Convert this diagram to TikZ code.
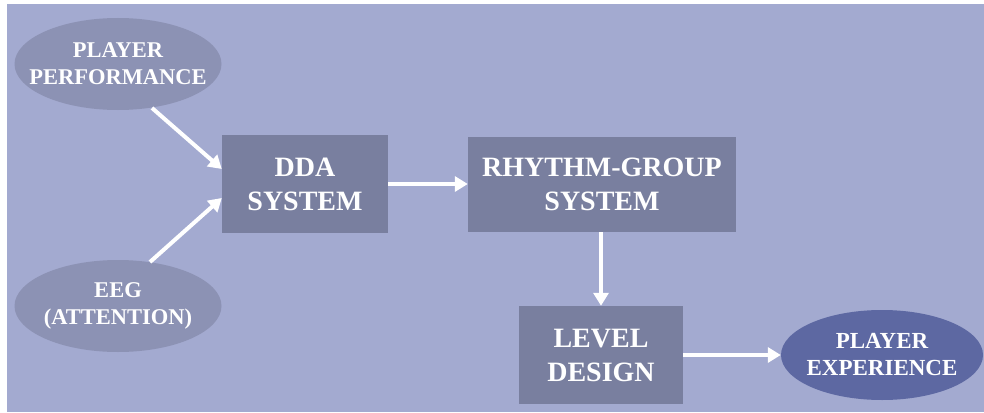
\documentclass[tikz,border=0pt]{standalone}
\usepackage{fontspec}
\setmainfont{Liberation Serif}
\usetikzlibrary{arrows.meta,shapes.geometric}
\definecolor{bgc}{HTML}{A3AAD0}
\definecolor{boxc}{HTML}{797F9F}
\definecolor{ellc}{HTML}{8C92B4}
\definecolor{pxc}{HTML}{5D68A2}
\tikzset{
  blk/.style={fill=boxc, draw=none, text=white, font=\bfseries\fontsize{28}{34}\selectfont, align=center, inner sep=0pt},
  ell/.style={ellipse, fill=ellc, draw=none, inner sep=0pt, minimum width=207pt, minimum height=92pt},
  etxt/.style={text=white, font=\bfseries\fontsize{22.5}{27}\selectfont, align=center, inner sep=0pt},
  conn/.style={draw=white, line width=4pt, -{Triangle[length=13pt,width=15pt]}}
}
\begin{document}
\begin{tikzpicture}[x=1pt,y=-1pt]
\useasboundingbox (0,0) rectangle (984,412);
\fill[white] (0,0) rectangle (984,412);
\fill[bgc] (7,4) rectangle (984,412);
\node[ell] (pp) at (118,64) {};
\node[etxt] (ppt) at (pp) {PLAYER\\PERFORMANCE};
\node[ell] (eeg) at (118,306) {};
\node[etxt] (eegt) at (eeg) {EEG\\(ATTENTION)};
\node[blk, minimum width=166pt, minimum height=98pt] (dda) at (305,184) {DDA\\SYSTEM};
\node[blk, minimum width=268pt, minimum height=95pt] (rg) at (602,184.5) {RHYTHM-GROUP\\SYSTEM};
\node[blk, minimum width=164pt, minimum height=98pt] (ld) at (601,355) {LEVEL\\DESIGN};
\node[ell, fill=pxc, minimum width=202pt, minimum height=90pt] (px) at (882,355) {};
\node[etxt, font=\bfseries\fontsize{23}{27}\selectfont] (pxt) at (px) {PLAYER\\EXPERIENCE};
\coordinate (a1) at (152,108);
\coordinate (a2) at (150,262);
\draw[conn] (a1) -- (dda.west |- 0,169);
\draw[conn] (a2) -- (dda.west |- 0,198);
\draw[conn] (dda.east) -- (rg.west |- dda.east);
\draw[conn] (rg.south -| ld.north) -- (ld.north);
\draw[conn] (ld.east) -- (px.west);
\end{tikzpicture}
\end{document}
